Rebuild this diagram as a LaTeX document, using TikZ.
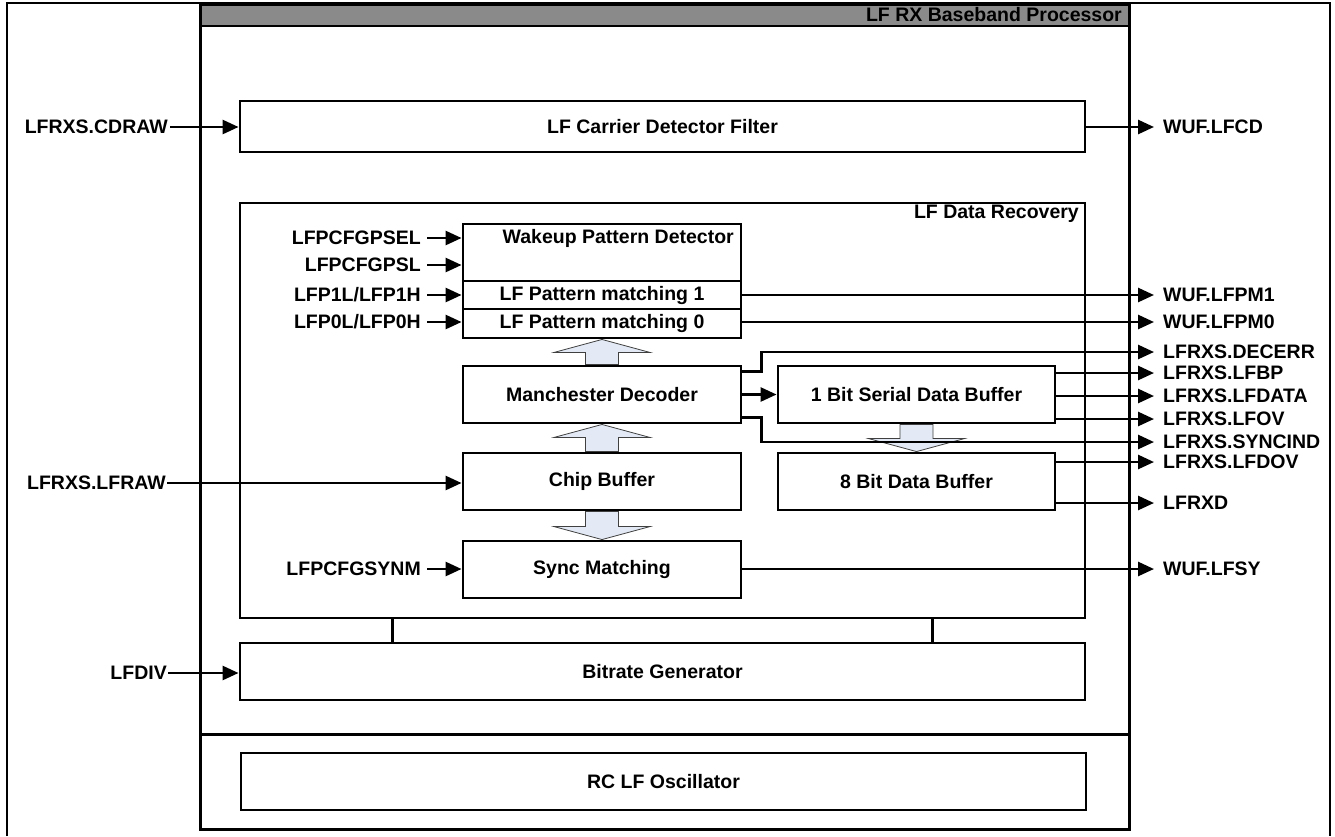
\documentclass[tikz,border=0pt]{standalone}
\usepackage{fontspec}
\setmainfont{Liberation Sans}
\usetikzlibrary{arrows.meta,calc}
\definecolor{hdrgray}{HTML}{8A8A8A}
\definecolor{holfill}{HTML}{E3EAF5}
\newcommand{\holarrow}[3]{%
  \filldraw[hollow] ($(#1)+(-16.5,0)$) -- ($(#2)+(-16.5,#3*13)$) -- ($(#2)+(-48,#3*13)$) -- (#2)
    -- ($(#2)+(48,#3*13)$) -- ($(#2)+(16.5,#3*13)$) -- ($(#1)+(16.5,0)$) -- cycle;}
\begin{document}
\begin{tikzpicture}[x=1pt,y=-1pt,
  font=\bfseries\fontsize{19.5}{22}\selectfont,
  blk/.style={draw,line width=2.9pt,inner sep=0pt,minimum width=278pt},
  wide/.style={draw,line width=2.9pt,inner sep=0pt,minimum width=845pt},
  conn/.style={line width=2.7pt},
  arr/.style={conn,-{Triangle[length=16pt,width=14pt]}},
  lbl/.style={inner sep=0pt},
  hollow/.style={draw=black!75,line width=0.8pt,fill=holfill}]
\useasboundingbox (0,0) rectangle (1335,836);
% outer frame
\draw[line width=1.8pt] (7,836) -- (7,3) -- (1330,3) -- (1330,836);
% main processor box
\filldraw[fill=hdrgray,line width=2.9pt] (200,4) rectangle (1129,26);
\draw[line width=3pt] (200,4) rectangle (1129,829);
\draw[line width=3pt] (200,734) -- (1129,734);
\node[lbl,anchor=east] (title) at (1122,15) {LF RX Baseband Processor};

% blocks
\node[wide,minimum height=51pt] (cdf) at (662.5,126.5) {LF Carrier Detector Filter};
\node[wide,minimum height=415pt] (dr) at (662.5,410.5) {};
\node[lbl,anchor=east] (drt) at (1079,214) {LF Data Recovery};
\node[wide,minimum height=57pt] (br) at (662.5,671.5) {Bitrate Generator};
\node[wide,minimum height=57pt] (rc) at (663.5,781.5) {RC LF Oscillator};

\node[blk,minimum height=57pt] (wake) at (602,252.5) {};
\node[lbl,anchor=east] (waket) at (734,238) {Wakeup Pattern Detector};
\node[blk,minimum height=28pt] (pm1) at (602,295) {LF Pattern matching 1};
\node[blk,minimum height=29pt] (pm0) at (602,323.5) {LF Pattern matching 0};
\node[blk,minimum height=57pt] (man) at (602,394.5) {Manchester Decoder};
\node[blk,minimum height=57pt] (chip) at (602,481.5) {Chip Buffer};
\node[blk,minimum height=57pt] (sync) at (602,569.5) {Sync Matching};
\node[blk,minimum width=277pt,minimum height=57pt] (ser) at (916.5,394.5) {1 Bit Serial Data Buffer};
\node[blk,minimum width=277pt,minimum height=57pt] (byte) at (916.5,481.5) {8 Bit Data Buffer};

% hollow data-flow arrows
\holarrow{man.north}{pm0.south}{1}
\holarrow{chip.north}{man.south}{1}
\holarrow{chip.south}{sync.north}{-1}
\holarrow{ser.south}{byte.north}{-1}

% links to bitrate generator
\draw[line width=2.2pt] ($(dr.south west)+(154,0)$) -- ($(br.north west)+(154,0)$);
\draw[line width=2.2pt] ($(dr.south west)+(694,0)$) -- ($(br.north west)+(694,0)$);

% left inputs
\node[lbl,anchor=east] (icd) at (168,127) {LFRXS.CDRAW};
\node[lbl,anchor=east] (iraw) at (166,483) {LFRXS.LFRAW};
\node[lbl,anchor=east] (idiv) at (167,673) {LFDIV};
\node[lbl,anchor=east] (ipsel) at (421,238) {LFPCFGPSEL};
\node[lbl,anchor=east] (ipsl) at (421,265) {LFPCFGPSL};
\node[lbl,anchor=east] (ip1) at (421,295) {LFP1L/LFP1H};
\node[lbl,anchor=east] (ip0) at (421,322) {LFP0L/LFP0H};
\node[lbl,anchor=east] (isyn) at (421,569) {LFPCFGSYNM};

\draw[arr,shorten <=2pt] (icd.east) -- (icd.east -| cdf.west);
\draw[arr,shorten <=1pt] (iraw.east) -- (iraw.east -| chip.west);
\draw[arr,shorten <=1pt] (idiv.east) -- (idiv.east -| br.west);
\draw[arr,shorten <=6pt] (ipsel.east) -- (ipsel.east -| wake.west);
\draw[arr,shorten <=6pt] (ipsl.east) -- (ipsl.east -| wake.west);
\draw[arr,shorten <=6pt] (ip1.east) -- (ip1.east -| pm1.west);
\draw[arr,shorten <=6pt] (ip0.east) -- (ip0.east -| pm0.west);
\draw[arr,shorten <=6pt] (isyn.east) -- (isyn.east -| sync.west);

% right outputs
\node[lbl,anchor=west] (ocd) at (1163,127) {WUF.LFCD};
\node[lbl,anchor=west] (opm1) at (1163,295) {WUF.LFPM1};
\node[lbl,anchor=west] (opm0) at (1163,322) {WUF.LFPM0};
\node[lbl,anchor=west] (oerr) at (1163,352) {LFRXS.DECERR};
\node[lbl,anchor=west] (obp) at (1163,373) {LFRXS.LFBP};
\node[lbl,anchor=west] (odata) at (1163,396) {LFRXS.LFDATA};
\node[lbl,anchor=west] (oov) at (1163,419) {LFRXS.LFOV};
\node[lbl,anchor=west] (osync) at (1163,442) {LFRXS.SYNCIND};
\node[lbl,anchor=west] (odov) at (1163,462) {LFRXS.LFDOV};
\node[lbl,anchor=west] (orxd) at (1163,503) {LFRXD};
\node[lbl,anchor=west] (osy) at (1163,569) {WUF.LFSY};

\draw[arr,shorten >=9pt] (ocd.west -| cdf.east) -- (ocd.west);
\draw[arr,shorten >=9pt] (opm1.west -| pm1.east) -- (opm1.west);
\draw[arr,shorten >=9pt] (opm0.west -| pm0.east) -- (opm0.west);
\draw[arr,shorten >=9pt] ($(man.north east)+(0,7)$) -- ++(19,0) |- (oerr.west);
\draw[arr] (man.east) -- (ser.west);
\draw[arr,shorten >=9pt] ($(man.south east)+(0,-7)$) -- ++(19,0) |- (osync.west);
\draw[arr,shorten >=9pt] (obp.west -| ser.east) -- (obp.west);
\draw[arr,shorten >=9pt] (odata.west -| ser.east) -- (odata.west);
\draw[arr,shorten >=9pt] (oov.west -| ser.east) -- (oov.west);
\draw[arr,shorten >=9pt] (odov.west -| byte.east) -- (odov.west);
\draw[arr,shorten >=9pt] (orxd.west -| byte.east) -- (orxd.west);
\draw[arr,shorten >=9pt] (osy.west -| sync.east) -- (osy.west);
\end{tikzpicture}
\end{document}
